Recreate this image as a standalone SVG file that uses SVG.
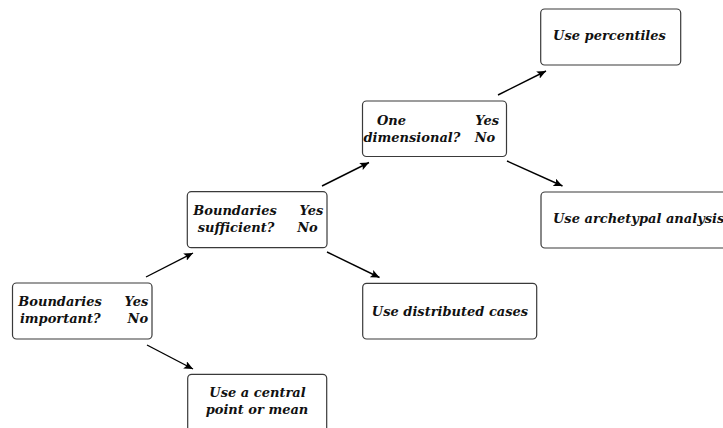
<svg xmlns="http://www.w3.org/2000/svg" width="723" height="428" viewBox="0 0 723 428">
<style>
.box{fill:#fff;stroke:#3a3a3a;stroke-width:1.2}
.t{font-family:"DejaVu Serif","Liberation Serif",serif;font-weight:bold;font-style:italic;font-size:13px;fill:#111}
.e{stroke:#000;stroke-width:1.4;fill:none}
</style>
<defs>
<marker id="ah" markerUnits="userSpaceOnUse" markerWidth="10" markerHeight="8" refX="9" refY="4" orient="auto">
<path d="M0,0 L9,4 L0,8 L2,4 Z" fill="#000"/>
</marker>
</defs>
<rect width="723" height="428" fill="#fff"/>
<g id="connectors">
<line class="e" x1="146" y1="277" x2="193" y2="253" marker-end="url(#ah)"/>
<line class="e" x1="147" y1="345" x2="193" y2="369" marker-end="url(#ah)"/>
<line class="e" x1="322" y1="186" x2="369" y2="162.5" marker-end="url(#ah)"/>
<line class="e" x1="327" y1="252" x2="379.5" y2="277.5" marker-end="url(#ah)"/>
<line class="e" x1="498" y1="95" x2="546" y2="71" marker-end="url(#ah)"/>
<line class="e" x1="507" y1="161" x2="562.5" y2="186" marker-end="url(#ah)"/>
</g>
<g id="n1">
<rect class="box" x="12.5" y="283" width="139.5" height="56" rx="4"/>
<text class="t" x="18.3" y="306">Boundaries</text>
<text class="t" x="148.3" y="306" text-anchor="end">Yes</text>
<text class="t" x="60.3" y="322.7" text-anchor="middle">important?</text>
<text class="t" x="137.8" y="322.7" text-anchor="middle">No</text>
</g>
<g id="n2">
<rect class="box" x="187.7" y="374.3" width="139" height="60" rx="4"/>
<text class="t" x="257.5" y="397" text-anchor="middle">Use a central</text>
<text class="t" x="257" y="414" text-anchor="middle">point or mean</text>
</g>
<g id="n3">
<rect class="box" x="187.3" y="191.7" width="139.7" height="56" rx="4"/>
<text class="t" x="193.3" y="215">Boundaries</text>
<text class="t" x="323.3" y="215" text-anchor="end">Yes</text>
<text class="t" x="236" y="231.7" text-anchor="middle">sufficient?</text>
<text class="t" x="307.5" y="231.7" text-anchor="middle">No</text>
</g>
<g id="n4">
<rect class="box" x="362.7" y="283.3" width="174" height="55.7" rx="4"/>
<text class="t" x="450" y="315.7" text-anchor="middle">Use distributed cases</text>
</g>
<g id="n5">
<rect class="box" x="362.5" y="101" width="144" height="55.5" rx="4"/>
<text class="t" x="377" y="124.5">One</text>
<text class="t" x="499" y="124.5" text-anchor="end">Yes</text>
<text class="t" x="363.5" y="141.5">dimensional?</text>
<text class="t" x="485" y="141.5" text-anchor="middle">No</text>
</g>
<g id="n6">
<rect class="box" x="540.7" y="9" width="140" height="56" rx="4"/>
<text class="t" x="609.5" y="40" text-anchor="middle">Use percentiles</text>
</g>
<g id="n7">
<rect class="box" x="541" y="192" width="200" height="56" rx="4"/>
<text class="t" x="553" y="222.5">Use archetypal analysis</text>
</g>
</svg>
